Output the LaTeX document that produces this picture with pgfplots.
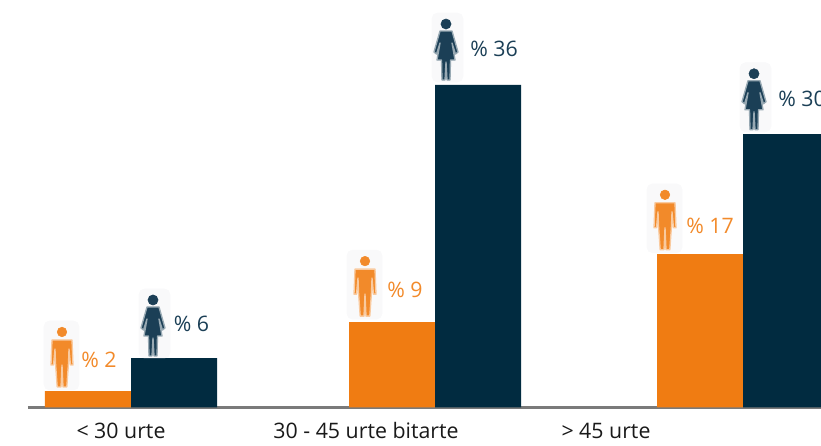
\documentclass[border=0pt]{standalone}
\usepackage{fontspec}
\setmainfont{Open Sans}
\usepackage{pgfplots}
\pgfplotsset{compat=1.18}
\definecolor{orangeb}{HTML}{F07C12}
\definecolor{navyb}{HTML}{012B40}
\definecolor{navyt}{HTML}{1B3F56}
\definecolor{oranget}{HTML}{F28A2A}
\definecolor{halo}{HTML}{F9F9FA}
\pgfdeclareplotmark{man}{%
  \begin{scope}[x=.75pt,y=.75pt]
  \fill[halo, rounded corners=4pt] (-18,-3) rectangle (17,66);
  \fill[oranget] (0,55) circle [radius=3.6pt];
  \path[fill=oranget, draw=oranget!45, line width=1pt, line join=round] (-10,47) -- (10,47) -- (11,22) -- (8.5,22) -- (7,38) -- (6.5,24) -- (4.8,0) -- (1,0) -- (0,22) -- (-1,0) -- (-4.8,0) -- (-6.5,24) -- (-7,38) -- (-8.5,22) -- (-11,22) -- cycle;
  \end{scope}}
\pgfdeclareplotmark{woman}{%
  \begin{scope}[x=.75pt,y=.75pt]
  \fill[halo, rounded corners=4pt] (-14,-2) rectangle (17,67);
  \fill[navyt] (0,56) circle [radius=3.8pt];
  \path[fill=navyt, draw=navyt!45, line width=1pt, line join=round] (-6,49) -- (6,49) -- (12,28) -- (9.5,26) -- (6,37) -- (9,20) -- (4.5,20) -- (4,0) -- (1,0) -- (0,18) -- (-1,0) -- (-4,0) -- (-4.5,20) -- (-9,20) -- (-6,37) -- (-9.5,26) -- (-12,28) -- cycle;
  \end{scope}}
\begin{document}
\begin{tikzpicture}
\path[use as bounding box] (0,0) rectangle (615.75pt,334.5pt);
\begin{axis}[
  at={(21pt,28.875pt)}, anchor=origin,
  scale only axis, width=594.75pt, height=305.625pt,
  xmin=28, xmax=821, ymin=0, ymax=45.48,
  axis x line=bottom, axis y line=none,
  x axis line style={-, draw=black!52, line width=1.9pt},
  xtick={121,366,606},
  xticklabels={< 30 urte, 30 - 45 urte bitarte, > 45 urte},
  xtick style={draw=none},
  xticklabel style={font=\fontsize{16}{18}\selectfont, text=black!90, anchor=base, yshift=-23.5pt},
  ybar, bar width=86, clip mode=individual,
  tick align=outside, major tick length=0pt,
]
\addplot[ybar, bar shift=0pt, fill=orangeb, draw=none] coordinates {(88,1.84) (392,9.54) (700,17.13)};
\addplot[ybar, bar shift=0pt, fill=navyb, draw=none] coordinates {(174,5.52) (478,36.0) (786,30.5)};
\addplot[only marks, mark=man, forget plot] coordinates {(62,2.29) (365,10.2) (665,17.6)};
\addplot[only marks, mark=woman, forget plot] coordinates {(153,5.75) (446,36.55) (754,31.0)};
\tikzset{lab/.style={anchor=west, inner sep=0pt, font=\fontsize{16}{18}\selectfont}}
\node[lab, text=oranget] at (axis cs:81,5.35) {\% 2};
\node[lab, text=navyt] at (axis cs:173.5,9.3) {\% 6};
\node[lab, text=oranget] at (axis cs:387,13.15) {\% 9};
\node[lab, text=navyt] at (axis cs:470,40) {\% 36};
\node[lab, text=oranget] at (axis cs:686,20.25) {\% 17};
\node[lab, text=navyt] at (axis cs:778,34.4) {\% 30};
\end{axis}
\end{tikzpicture}
\end{document}
